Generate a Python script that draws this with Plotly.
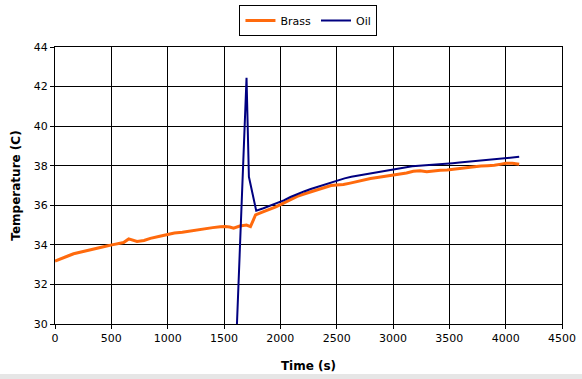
import plotly.graph_objects as go

brass_t = [0, 60, 120, 165, 240, 310, 380, 440, 505, 560, 609, 654, 690, 728, 790, 846,
           920, 1003, 1060, 1130, 1201, 1260, 1322, 1400, 1467, 1510, 1550, 1585, 1640,
           1700, 1735, 1780, 1840, 1900, 1960, 2005, 2090, 2150, 2210, 2270, 2330, 2390,
           2450, 2500, 2560, 2620, 2680, 2740, 2800, 2860, 2920, 2960, 3000, 3060, 3120,
           3180, 3240, 3300, 3360, 3420, 3480, 3540, 3600, 3660, 3720, 3780, 3840, 3900,
           3960, 4000, 4060, 4120]
brass_v = [33.18, 33.3, 33.45, 33.55, 33.65, 33.78, 33.85, 33.92, 34.0, 34.05, 34.12, 34.3,
           34.22, 34.17, 34.22, 34.33, 34.42, 34.54, 34.6, 34.64, 34.7, 34.76, 34.84, 34.87,
           34.92, 34.93, 34.9, 34.84, 34.95, 35.0, 34.92, 35.51, 35.65, 35.78, 35.92, 36.05,
           36.3, 36.45, 36.57, 36.68, 36.8, 36.9, 37.0, 37.03, 37.05, 37.12, 37.2, 37.28,
           37.35, 37.4, 37.45, 37.48, 37.5, 37.55, 37.63, 37.72, 37.75, 37.7, 37.75, 37.77,
           37.78, 37.82, 37.88, 37.9, 37.93, 37.98, 38.0, 38.02, 38.08, 38.12, 38.12, 38.07]

oil_t = [1615, 1700, 1721, 1786, 1850, 1910, 1970, 2030, 2090, 2150, 2210, 2270, 2330,
         2390, 2450, 2510, 2570, 2630, 2690, 2750, 2810, 2870, 2930, 2990, 3050, 3110,
         3170, 3230, 3290, 3350, 3410, 3470, 3530, 3590, 3650, 3710, 3770, 3830, 3890,
         3950, 4010, 4070, 4120]
oil_v = [30.0, 42.44, 37.44, 35.73, 35.85, 35.98, 36.1, 36.25, 36.42, 36.57, 36.7, 36.82,
         36.93, 37.05, 37.17, 37.28, 37.36, 37.44, 37.5, 37.56, 37.62, 37.68, 37.74, 37.8,
         37.86, 37.92, 37.97, 38.0, 38.02, 38.05, 38.08, 38.1, 38.13, 38.16, 38.19, 38.22,
         38.25, 38.28, 38.3, 38.33, 38.37, 38.4, 38.45]

x_ticks = [0, 500, 1000, 1500, 2000, 2500, 3000, 3500, 4000, 4500]
y_ticks = [30, 32, 34, 36, 38, 40, 42, 44]

font = "DejaVu Sans, Verdana, sans-serif"

fig = go.Figure()
fig.add_trace(go.Scatter(x=brass_t, y=brass_v, mode="lines", name="Brass",
                         line=dict(color="#FF6A0D", width=3)))
fig.add_trace(go.Scatter(x=oil_t, y=oil_v, mode="lines", name="Oil",
                         line=dict(color="#000080", width=2)))

axis_common = dict(showline=True, linecolor="black", linewidth=1, mirror=True,
                   showgrid=True, gridcolor="black", gridwidth=1,
                   ticks="outside", ticklen=4, tickcolor="black",
                   tickfont=dict(family=font, size=11, color="black"),
                   zeroline=False, automargin=False)

fig.update_layout(
    width=582, height=379,
    margin=dict(l=55, r=20, t=47, b=55),
    paper_bgcolor="white", plot_bgcolor="white",
    font=dict(family=font, color="black"),
    showlegend=True,
    legend=dict(orientation="h", x=0.53, xanchor="center", xref="container",
                y=0.987, yanchor="top", yref="container",
                bordercolor="black", borderwidth=1, bgcolor="white",
                font=dict(family=font, size=11, color="black"),
                itemwidth=30, tracegroupgap=0),
    xaxis=dict(range=[0, 4500], tickvals=x_ticks, ticktext=[str(v) for v in x_ticks],
               title=dict(text="<b>Time (s)</b>", font=dict(family=font, size=12), standoff=17),
               **axis_common),
    yaxis=dict(range=[30, 44], tickvals=y_ticks, ticktext=[str(v) for v in y_ticks],
               title=dict(text="<b>Temperature (C)</b>", font=dict(family=font, size=12), standoff=10),
               **axis_common),
    shapes=[dict(type="rect", xref="paper", yref="paper", x0=-0.2, x1=1.1,
                 y0=-0.199, y1=-0.1805, fillcolor="#e6e6e6", line=dict(width=0),
                 layer="below")],
)

fig.write_html("out.html", config={"displayModeBar": False},
               post_script="document.body.style.margin='0';document.body.style.padding='0';")
